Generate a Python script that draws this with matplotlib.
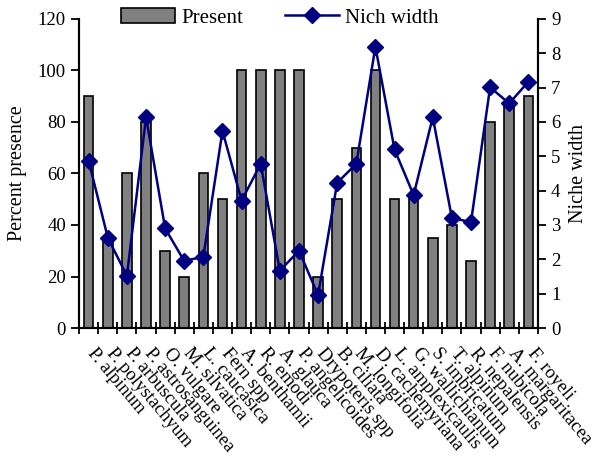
import matplotlib.pyplot as plt
import numpy as np
from matplotlib.patches import Patch
from matplotlib.lines import Line2D
from matplotlib.transforms import ScaledTranslation

plt.rcParams['font.family'] = ['Liberation Serif', 'DejaVu Serif']

species = ["P. alpinum", "P. polystachyum", "P. arbuscula", "P. astrosanguinea",
           "O. vulgare", "M. silvatica", "L. caucasica", "Fern spp",
           "A. benthamii", "R. emodi", "A. glauca", "P. angelicoides",
           "Drypoteris spp", "B. ciliata", "M. longifolia", "D. cachemyriana",
           "L. amplexicaulis", "G. wallichianum", "S. imbricatum", "T. alpinum",
           "R. nepalensis", "F. nubicola", "A. margaritacea", "F. royeli"]
present = [90, 34, 60, 80, 30, 20, 60, 50, 100, 100, 100, 100,
           20, 50, 70, 100, 50, 50, 35, 40, 26, 80, 87, 90]
niche = [4.86, 2.63, 1.52, 6.14, 2.90, 1.95, 2.08, 5.74, 3.71, 4.78, 1.67, 2.25,
         0.96, 4.23, 4.78, 8.19, 5.20, 3.87, 6.14, 3.21, 3.08, 7.01, 6.54, 7.17]

x = np.arange(len(species))

fig = plt.figure(figsize=(5.95, 4.62), dpi=100)
ax = fig.add_axes([0.133, 0.290, 0.771, 0.669])
ax2 = ax.twinx()

ax.bar(x, present, width=0.5, color="#808080", edgecolor="black", linewidth=1.2)
ax2.plot(x, niche, color="#000080", lw=1.8, marker="D", ms=8)

ax.set_xlim(-0.5, len(species) - 0.5)
ax.set_ylim(0, 120)
ax2.set_ylim(0, 9)
ax.set_yticks(range(0, 121, 20))
ax2.set_yticks(range(0, 10))

# tick marks between categories, names under each bar
ax.set_xticks(np.arange(len(species) + 1) - 0.5)
ax.set_xticklabels([])
ax.set_xticks(x, species, minor=True)
ax.tick_params(axis="x", which="major", direction="inout", length=8, width=1.3)
ax.tick_params(axis="x", which="minor", length=0, pad=12, labelsize=13.5)
shift = ScaledTranslation(6 / 72, 0, fig.dpi_scale_trans)
for lbl in ax.get_xticklabels(minor=True):
    lbl.set_rotation(-50)
    lbl.set_ha("left")
    lbl.set_va("top")
    lbl.set_rotation_mode("anchor")
    lbl.set_transform(lbl.get_transform() + shift)

ax.tick_params(axis="y", direction="out", length=6, width=1.3, labelsize=13.5)
ax2.tick_params(axis="y", direction="out", length=6, width=1.3, labelsize=13.5)

for a in (ax, ax2):
    a.spines["top"].set_visible(False)
    for s in ("left", "right", "bottom"):
        a.spines[s].set_linewidth(1.5)

ax.set_ylabel("Percent presence", fontsize=14.5, labelpad=8)
ax2.set_ylabel("Niche width", fontsize=14.5, labelpad=6)

handles = [Patch(facecolor="#808080", edgecolor="black", linewidth=1.2),
           Line2D([], [], color="#000080", lw=1.8, marker="D", ms=8)]
fig.legend(handles, ["Present", "Nich width"], loc="center",
           bbox_to_anchor=(0.47, 0.962), ncol=2, frameon=False, fontsize=15,
           handlelength=2.6, handleheight=0.75, handletextpad=0.3,
           columnspacing=2.0)

fig.savefig("out.png", dpi=100)
